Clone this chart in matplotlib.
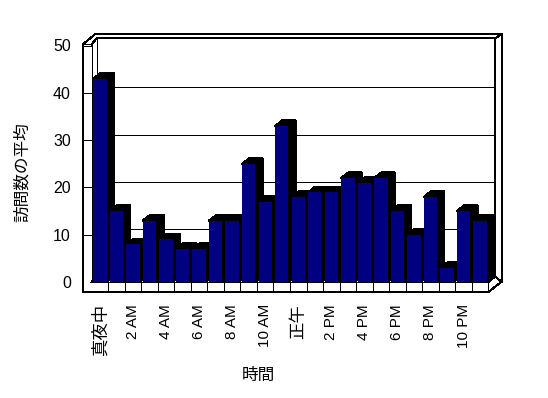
import matplotlib
matplotlib.use("Agg")
import matplotlib.pyplot as plt
from matplotlib.patches import Polygon

plt.rcParams['font.family'] = ['Liberation Sans', 'Noto Sans CJK JP']
# crisp 1-pixel frame lines like the original
plt.rcParams['lines.antialiased'] = False
plt.rcParams['patch.antialiased'] = False

# average visits per hour of the day
visits = [43, 15, 8, 13, 9, 7, 7, 13, 13, 25, 17, 33,
          18, 19, 19, 22, 21, 22, 15, 10, 18, 3, 15, 13]
tick_pos = [0, 2, 4, 6, 8, 10, 12, 14, 16, 18, 20, 22]
tick_labels = ['真夜中', '2 AM', '4 AM', '6 AM', '8 AM', '10 AM',
               '正午', '2 PM', '4 PM', '6 PM', '8 PM', '10 PM']
y_ticks = [0, 10, 20, 30, 40, 50]

W, H = 548, 398
fig = plt.figure(figsize=(W / 100, H / 100), dpi=100)

# front plane of the plot in pixels
X0, X1, Y0 = 91.7, 488.3, 282.0
CW = (X1 - X0) / 24      # px per category
VU = 4.73                # px per value unit
LW = 0.72                # one pixel
ax = fig.add_axes([X0 / W, 1 - Y0 / H, (X1 - X0) / W, 50 * VU / H])
ax.set_xlim(-0.5, 23.5)
ax.set_ylim(0, 50)
ax.set_facecolor('none')
for s in ax.spines.values():
    s.set_visible(False)


def fp(x, y):
    return (x / W, 1 - y / H)


def frame_line(pts, z=1):
    xs = [fp(*p)[0] for p in pts]
    ys = [fp(*p)[1] for p in pts]
    ax.plot(xs, ys, color='black', lw=LW, transform=fig.transFigure,
            clip_on=False, zorder=z, solid_joinstyle='miter')


# walls and floor
outer = [(83, 44.3), (95, 34.3), (501.7, 34.3), (501.7, 281.7),
         (488.3, 292), (83, 292)]
ax.add_patch(Polygon([fp(*p) for p in outer], closed=True, facecolor='white',
                     edgecolor='black', lw=LW, transform=fig.transFigure,
                     clip_on=False, zorder=0.5))
frame_line([(83, 44.3), (91.7, 44.3), (91.7, 282), (488.3, 282), (488.3, 292)])
frame_line([(91.7, 44.3), (96.7, 38.3), (495, 38.3), (501.7, 34.3)])
frame_line([(96.7, 38.3), (96.7, 276.6), (495, 276.6)])
frame_line([(495, 38.3), (495, 276.6), (488.3, 282)])
frame_line([(91.7, 282), (96.7, 276.6)])
frame_line([(495, 276.6), (501.7, 281.7)])

# category dividers on floor front
for k in range(1, 24):
    x = X0 + k * CW
    frame_line([(x, 282), (x, 292)])

# gridlines on back wall and ticks on left wall
for v in y_ticks[1:-1]:
    yb = Y0 - v * VU - 5.4
    frame_line([(96.7, yb), (495, yb)])
for v in y_ticks[1:]:
    yf = Y0 - v * VU
    frame_line([(83, yf), (91.7, yf)])

# bars with 3D top and side
DX = 7.3 / CW
DY = 5.6 / VU
bw = 0.81
bars = ax.bar(range(len(visits)), visits, width=bw, color='#000080', linewidth=0)
for i, (b, v) in enumerate(zip(bars, visits)):
    b.set_zorder(3 + i)
    l, r = i - bw / 2, i + bw / 2
    side = [(r, 0), (r + DX, DY), (r + DX, v + DY), (r, v)]
    top = [(l, v), (r, v), (r + DX, v + DY), (l + DX, v + DY)]
    for poly in (side, top):
        ax.add_patch(Polygon(poly, closed=True, facecolor='black',
                             edgecolor='black', lw=LW, zorder=2.5 + i,
                             clip_on=False))

ax.set_xticks(tick_pos)
ax.set_xticklabels(tick_labels, rotation=90, fontsize=11)
for t in ax.get_xticklabels():
    if 'M' not in t.get_text():
        t.set_fontsize(12.5)
ax.tick_params(axis='x', length=0, pad=16)
ax.set_yticks(y_ticks)
ax.set_yticklabels([str(v) for v in y_ticks], fontsize=11.5)
ax.tick_params(axis='y', length=0, pad=15)

ax.set_xlabel('時間', fontsize=12)
ax.xaxis.set_label_coords((258.3 - X0) / (X1 - X0), (Y0 - 375.5) / (50 * VU))
ax.xaxis.label.set_va('center')
ax.set_ylabel('訪問数の平均', fontsize=12)
ax.yaxis.set_label_coords((22 - X0) / (X1 - X0), (Y0 - 172) / (50 * VU))
ax.yaxis.label.set_va('center')

fig.savefig('out.png', dpi=100)
